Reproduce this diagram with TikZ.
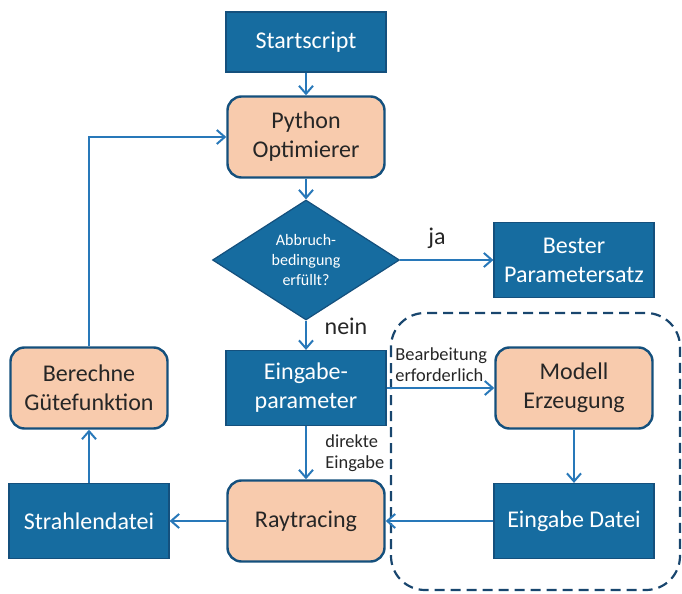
\documentclass[tikz,border=0pt]{standalone}
\usepackage{fontspec}
\setmainfont{Carlito}
\usetikzlibrary{shapes.geometric,arrows.meta}
\definecolor{boxblue}{RGB}{22,108,160}
\definecolor{boxedge}{RGB}{20,80,125}
\definecolor{peach}{RGB}{248,203,173}
\definecolor{arrowblue}{RGB}{40,120,185}
\definecolor{frameblue}{RGB}{25,70,110}
\begin{document}
\begin{tikzpicture}[x=0.5pt,y=-0.5pt,
  bluebox/.style={draw=boxedge,line width=0.6pt,fill=boxblue,text=white,font=\fontsize{12}{14.5}\selectfont,
    minimum width=80pt,minimum height=37.5pt,align=center,inner sep=2pt},
  peachbox/.style={draw=boxedge,line width=1.2pt,fill=peach,text=black!85,rounded corners=7pt,
    font=\fontsize{12}{14.5}\selectfont,minimum width=78.5pt,minimum height=40.5pt,align=center,inner sep=2pt},
  decision/.style={diamond,draw=boxedge,line width=0.6pt,fill=boxblue,text=white,font=\fontsize{8}{10}\selectfont,
    minimum width=93.5pt,minimum height=52.5pt,align=center,inner sep=0pt},
  flow/.style={draw=arrowblue,line width=1pt,-{Straight Barb[length=4pt,width=7pt,line width=1pt]}},
  small/.style={font=\fontsize{9.2}{10.5}\selectfont,align=left,text=black!85,inner sep=0pt},
  label/.style={font=\fontsize{12}{14}\selectfont,text=black!85,inner sep=0pt}]
\useasboundingbox (0,0) rectangle (682,594);
\node[bluebox,minimum height=30pt] (start) at (306,42) {Startscript};
\node[peachbox] (opt) at (306,137) {Python\\Optimierer};
\node[decision] (stop) at (306,260) {Abbruch-\\bedingung\\erfüllt?};
\node[bluebox] (best) at (574,260) {Bester\\Parametersatz};
\node[bluebox] (param) at (306,388) {Eingabe-\\parameter};
\node[peachbox] (model) at (574,388) {Modell\\Erzeugung};
\node[peachbox] (ray) at (306,521) {Raytracing};
\node[bluebox] (file) at (574,521) {Eingabe Datei};
\node[bluebox] (rays) at (89,521) {Strahlendatei};
\node[peachbox] (merit) at (89,388) {Berechne\\Gütefunktion};
\draw[frameblue,line width=1.1pt,dashed,dash pattern=on 5pt off 3pt,rounded corners=17pt] (391,313) rectangle (680,590);
\draw[flow] (start) -- (opt);
\draw[flow] (opt) -- (stop);
\draw[flow] (stop) -- (best);
\draw[flow] (stop) -- (param);
\draw[flow] (param) -- (model);
\draw[flow] (param) -- (ray);
\draw[flow] (model) -- (file);
\draw[flow] (file) -- (ray);
\draw[flow] (ray) -- (rays);
\draw[flow] (rays) -- (merit);
\draw[flow] (merit.north) |- (opt.west);
\node[label] (ja) at (437,238) {ja};
\node[label] (nein) at (346,326) {nein};
\node[small,anchor=west] (edit) at (395,365) {Bearbeitung\\erforderlich};
\node[small,anchor=west] (direct) at (325,453) {direkte\\Eingabe};
\end{tikzpicture}
\end{document}
